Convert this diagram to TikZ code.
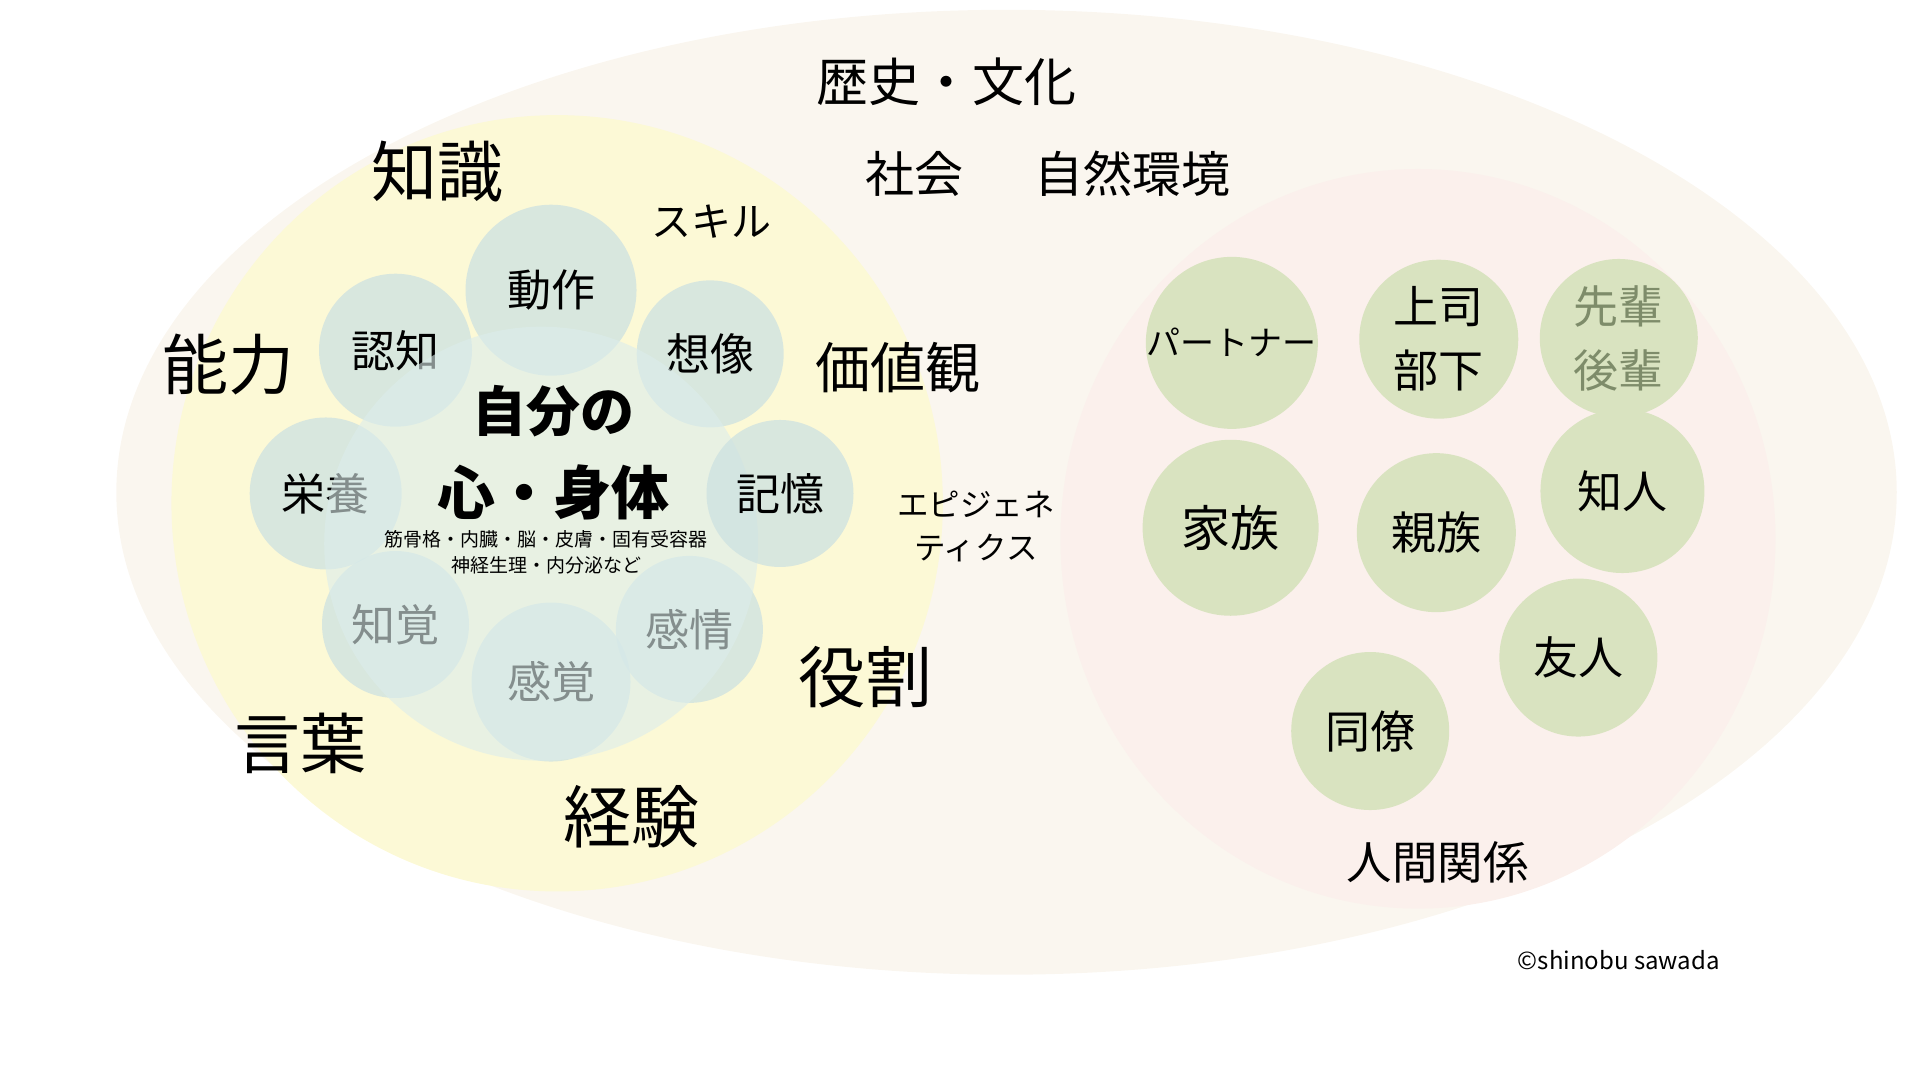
\documentclass[tikz,border=0pt]{standalone}
\usepackage{fontspec}
\setmainfont{Noto Sans CJK JP}
\usepackage{tikz}
\usetikzlibrary{positioning}
\definecolor{bgouter}{RGB}{250,246,239}
\definecolor{bgyellow}{RGB}{252,249,214}
\definecolor{bgpink}{RGB}{251,240,236}
\definecolor{selfgreen}{RGB}{220,237,236}
\definecolor{mindblue}{RGB}{205,225,225}
\definecolor{relgreen}{RGB}{217,227,192}
\definecolor{relgray}{RGB}{126,140,106}
\tikzstyle{mind} = [circle, fill=mindblue, fill opacity=0.75, text opacity=1, inner sep=0pt, font=\fontsize{44}{50}\selectfont]
\tikzstyle{rel} = [circle, fill=relgreen, inner sep=0pt, align=center, font=\fontsize{45}{64}\selectfont]
\tikzstyle{word} = [inner sep=0pt]

\begin{document}
\begin{tikzpicture}[x=1.2245pt, y=-1.2245pt]
\useasboundingbox (0,0) rectangle (1568,882);

% Backgrounds
\fill[bgouter] (822,402) ellipse [x radius=727, y radius=394];
\fill[bgpink] (1158,440) ellipse [x radius=292, y radius=302];
\fill[bgyellow] (455,411) ellipse [x radius=315, y radius=317];

% Mind and body
\node[mind, minimum size=171pt] (dousa) at (450,237) {動作};
\node[mind, minimum size=153pt] (ninchi) at (323,286) {認知};
\node[mind, minimum size=147pt] (souzou) at (580,289) {想像};
\node[mind, minimum size=152pt] (eiyou) at (266,403) {栄養};
\node[mind, minimum size=147pt] (chikaku) at (323,510) {知覚};
\node[mind, minimum size=159pt] (kankaku) at (450,557) {感覚};
\node[mind, minimum size=147pt] (kanjou) at (563,514) {感情};
\node[circle, fill=selfgreen, fill opacity=0.6, minimum size=434pt] (self) at (442,444) {};
\node[mind, minimum size=147pt] (kioku) at (637,403) {記憶};

\node[word, font=\fontsize{54}{60}\selectfont\bfseries] (jibun) at (452,336) {自分の};
\node[word, font=\fontsize{58}{64}\selectfont\bfseries] (karada) at (452,402) {心・身体};
\node[word, font=\fontsize{19}{26}\selectfont, align=center] (parts) at (446,451) {筋骨格・内臓・脳・皮膚・固有受容器\\神経生理・内分泌など};

% Around the self
\node[word, font=\fontsize{66}{70}\selectfont] (chishiki) at (357,140) {知識};
\node[word, font=\fontsize{40}{44}\selectfont] (skill) at (581,181) {スキル};
\node[word, font=\fontsize{66}{70}\selectfont] (nouryoku) at (187,298) {能力};
\node[word, font=\fontsize{55}{60}\selectfont] (kachikan) at (733,300) {価値観};
\node[word, font=\fontsize{31.5}{43}\selectfont, align=center] (epi) at (797,430) {エピジェネ\\ティクス};
\node[word, font=\fontsize{67}{70}\selectfont] (yakuwari) at (707,553) {役割};
\node[word, font=\fontsize{66}{70}\selectfont] (kotoba) at (245,607) {言葉};
\node[word, font=\fontsize{68}{70}\selectfont] (keiken) at (516,667) {経験};

% World
\node[word, font=\fontsize{52}{56}\selectfont] (rekishi) at (773,67) {歴史・文化};
\node[word, font=\fontsize{49}{54}\selectfont] (shakai) at (747,142) {社会};
\node[word, font=\fontsize{49}{54}\selectfont] (shizen) at (925,142) {自然環境};

% Relationships
\node[rel, minimum size=169pt, font=\fontsize{34}{40}\selectfont] (partner) at (1006,280) {パートナー};
\node[rel, minimum size=159pt] (joushi) at (1175,277) {上司\\部下};
\node[rel, minimum size=158pt, text=relgray] (senpai) at (1322,276) {先輩\\後輩};
\node[rel, minimum size=176pt, font=\fontsize{49}{54}\selectfont] (kazoku) at (1005,431) {家族};
\node[rel, minimum size=159pt] (shinzoku) at (1173,435) {親族};
\node[rel, minimum size=164pt] (chijin) at (1325,401) {知人};
\node[rel, minimum size=158pt] (yuujin) at (1289,537) {友人};
\node[rel, minimum size=158pt] (douryou) at (1119,597) {同僚};
\node[word, font=\fontsize{45.5}{50}\selectfont] (ningen) at (1174,704) {人間関係};

\node[word, font=\fontsize{24}{30}\selectfont] (credit) at (1322,784) {©shinobu sawada};
\end{tikzpicture}
\end{document}
